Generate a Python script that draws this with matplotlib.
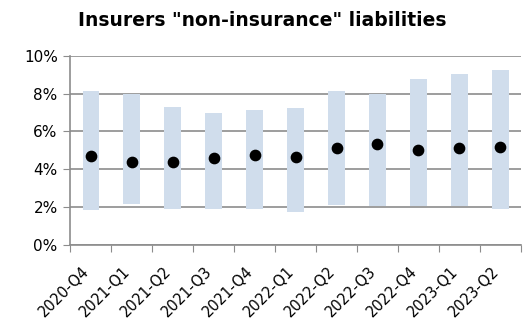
import numpy as np
import matplotlib.pyplot as plt
from matplotlib.transforms import ScaledTranslation

quarters = ['2020-Q4', '2021-Q1', '2021-Q2', '2021-Q3', '2021-Q4', '2022-Q1',
            '2022-Q2', '2022-Q3', '2022-Q4', '2023-Q1', '2023-Q2']
low = [1.85, 2.15, 1.90, 1.90, 1.90, 1.73, 2.13, 2.06, 2.06, 2.06, 1.88]
high = [8.13, 7.96, 7.31, 6.96, 7.13, 7.24, 8.12, 7.96, 8.75, 9.05, 9.24]
median = [4.70, 4.40, 4.40, 4.60, 4.77, 4.65, 5.12, 5.35, 5.02, 5.14, 5.19]

fig = plt.figure(figsize=(5.24, 3.22), dpi=100)
ax = fig.add_axes([0.134, 0.239, 0.860, 0.588])

x = np.arange(len(quarters))
ax.bar(x, np.array(high) - np.array(low), bottom=low, width=0.4,
       color='#d0ddec', zorder=2)
ax.scatter(x, median, s=55, color='black', zorder=3)

ax.set_xlim(-0.5, len(quarters) - 0.5)
ax.set_ylim(0, 10)
ax.set_yticks(range(0, 11, 2))
ax.set_yticklabels([f'{v}%' for v in range(0, 11, 2)], fontsize=11)
ax.yaxis.grid(True, color='#8c8c8c', linewidth=1.2, zorder=1)
ax.set_axisbelow(True)

# tick marks at the category boundaries, rotated labels drawn as text
ax.set_xticks(np.arange(len(quarters) + 1) - 0.5)
ax.set_xticklabels([])
ax.tick_params(axis='x', length=5, color='#8c8c8c', direction='out')
ax.tick_params(axis='y', length=5, color='#8c8c8c', labelcolor='black', pad=4)

shift = ScaledTranslation(-0.04, -0.24, fig.dpi_scale_trans)
for i, q in enumerate(quarters):
    ax.text(i, 0, q, transform=ax.get_xaxis_transform() + shift,
            rotation=45, ha='right', va='center', rotation_mode='anchor',
            fontsize=10.5)

for side in ['top', 'right']:
    ax.spines[side].set_visible(False)
ax.spines['left'].set_color('#8c8c8c')
ax.spines['bottom'].set_color('#8c8c8c')
ax.spines['left'].set_linewidth(1.2)
ax.spines['bottom'].set_linewidth(1.2)

fig.text(0.501, 0.935, 'Insurers "non-insurance" liabilities', ha='center',
         va='center', fontsize=13.5, fontweight='bold')

fig.savefig('out.png', dpi=100)
